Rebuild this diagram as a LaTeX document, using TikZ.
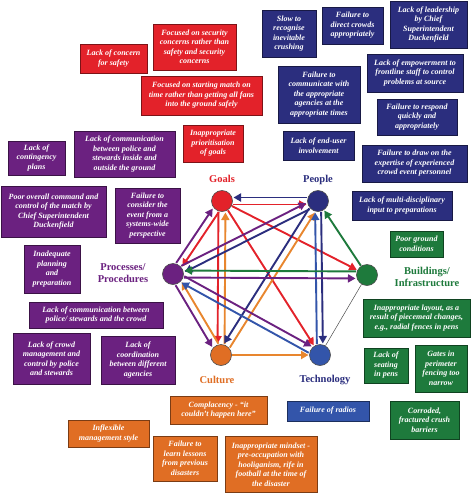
\documentclass[tikz,border=0pt]{standalone}
\usepackage{fontspec}
\setmainfont{Liberation Serif}
\usetikzlibrary{arrows.meta,calc}
\definecolor{cR}{HTML}{E3222A}
\definecolor{cN}{HTML}{2B2E7E}
\definecolor{cB}{HTML}{3355AA}
\definecolor{cG}{HTML}{1E7A3C}
\definecolor{cPu}{HTML}{6B2180}
\definecolor{cO}{HTML}{E06E24}
\definecolor{cOa}{HTML}{E8862E}
\newcommand\bxfont{\fontsize{8}{9.5}\selectfont\bfseries\itshape}
\newcommand\hxlink[4]{\draw[arr,#1] ($(#2)!#4!90:(#3)$) -- ($(#3)!#4!-90:(#2)$);}
\tikzset{
  box/.style={draw=#1!55!black, fill=#1, line width=0.7pt, text=white, font=\bxfont, align=center, inner sep=1pt},
  hub/.style={circle, minimum size=21pt, inner sep=0pt, draw=black!70, line width=0.6pt, fill=#1},
  lab/.style={font=\fontsize{10.5}{11.5}\selectfont\bfseries, align=center, text=#1},
  arr/.style={line width=1.9pt, -{Triangle[length=7.5pt,width=8pt]}, shorten <=11pt, shorten >=11.5pt}
}
\begin{document}
\begin{tikzpicture}[x=1pt,y=-1pt]
\fill[white] (0,0) rectangle (474,493);
\useasboundingbox (0,0) rectangle (474,493);
% red boxes
\node[box=cR, minimum width=67pt, minimum height=29pt] (r1) at (113.5,58.5) {Lack of concern\\for safety};
\node[box=cR, minimum width=83pt, minimum height=46pt] (r2) at (194.5,47) {Focused on security\\concerns rather than\\safety and security\\concerns};
\node[box=cR, minimum width=121pt, minimum height=39pt] (r3) at (201.5,95.5) {Focused on starting match on\\time rather than getting all fans\\into the ground safely};
\node[box=cR, minimum width=60pt, minimum height=37pt] (r4) at (213,143.5) {Inappropriate\\prioritisation\\of goals};
% navy boxes
\node[box=cN, minimum width=54pt, minimum height=47pt] (n1) at (289,33.5) {Slow to\\recognise\\inevitable\\crushing};
\node[box=cN, minimum width=61pt, minimum height=37pt] (n2) at (352.5,25.5) {Failure to\\direct crowds\\appropriately};
\node[box=cN, minimum width=77pt, minimum height=47pt] (n3) at (428.5,24.5) {Lack of leadership\\by Chief\\Superintendent\\Duckenfield};
\node[box=cN, minimum width=82pt, minimum height=57pt] (n4) at (319,94.5) {Failure to\\communicate with\\the appropriate\\agencies at the\\appropriate times};
\node[box=cN, minimum width=96pt, minimum height=38pt] (n5) at (415,73) {Lack of empowerment to\\frontline staff to control\\problems at source};
\node[box=cN, minimum width=80pt, minimum height=36pt] (n6) at (417,117) {Failure to respond\\quickly and\\appropriately};
\node[box=cN, minimum width=71pt, minimum height=29pt] (n7) at (318.5,145.5) {Lack of end-user\\involvement};
\node[box=cN, minimum width=105pt, minimum height=37pt] (n8) at (414.5,163.5) {Failure to draw on the\\expertise of experienced\\crowd event personnel};
\node[box=cN, minimum width=100pt, minimum height=29pt] (n9) at (402,205.5) {Lack of multi-disciplinary\\input to preparations};
\node[box=cB, minimum width=82pt, minimum height=20pt] (b1) at (328,411) {Failure of radios};
% green boxes
\node[box=cG, minimum width=53pt, minimum height=26pt] (g1) at (416.5,244) {Poor ground\\conditions};
\node[box=cG, minimum width=107pt, minimum height=38pt] (g2) at (416.5,318) {Inappropriate layout, as a\\result of piecemeal changes,\\e.g., radial fences in pens};
\node[box=cG, minimum width=44pt, minimum height=35pt] (g3) at (386,365.5) {Lack of\\seating\\in pens};
\node[box=cG, minimum width=52pt, minimum height=47pt] (g4) at (441,368.5) {Gates in\\perimeter\\fencing too\\narrow};
\node[box=cG, minimum width=69pt, minimum height=38pt] (g5) at (424.5,420) {Corroded,\\fractured crush\\barriers};
% purple boxes
\node[box=cPu, minimum width=57pt, minimum height=34pt] (p1) at (36.5,158) {Lack of\\contingency\\plans};
\node[box=cPu, minimum width=101pt, minimum height=46pt] (p2) at (124.5,154) {Lack of communication\\between police and\\stewards inside and\\outside the ground};
\node[box=cPu, minimum width=105pt, minimum height=51pt] (p3) at (53.5,211.5) {Poor overall command and\\control of the match by\\Chief Superintendent\\Duckenfield};
\node[box=cPu, minimum width=65pt, minimum height=55pt] (p4) at (147.5,215.5) {Failure to\\consider the\\event from a\\systems-wide\\perspective};
\node[box=cPu, minimum width=56pt, minimum height=48pt] (p5) at (52,269) {Inadequate\\planning\\and\\preparation};
\node[box=cPu, minimum width=134pt, minimum height=26pt] (p6) at (96,315) {Lack of communication between\\police/ stewards and the crowd};
\node[box=cPu, minimum width=77pt, minimum height=51pt] (p7) at (51.5,358.5) {Lack of crowd\\management and\\control by police\\and stewards};
\node[box=cPu, minimum width=74pt, minimum height=48pt] (p8) at (138,360) {Lack of\\coordination\\between different\\agencies};
% orange boxes
\node[box=cO, minimum width=97pt, minimum height=28pt] (o1) at (218.5,410) {Complacency - ``it\\couldn't happen here''};
\node[box=cO, minimum width=81pt, minimum height=27pt] (o2) at (108.5,433.5) {Inflexible\\management style};
\node[box=cO, minimum width=64pt, minimum height=45pt] (o3) at (185,458.5) {Failure to\\learn lessons\\from previous\\disasters};
\node[box=cO, minimum width=92pt, minimum height=56pt] (o4) at (271,464.5) {Inappropriate mindset -\\pre-occupation with\\hooliganism, rife in\\football at the time of\\the disaster};
% hubs
\node[hub=cR] (G) at (222,201) {};
\node[hub=cN] (P) at (318,201) {};
\node[hub=cG] (B) at (367,275) {};
\node[hub=cB] (T) at (320,355) {};
\node[hub=cO] (C) at (221,355) {};
\node[hub=cPu] (Pr) at (173,274) {};
% hub labels
\node[lab=cR] (lG) at (222,179) {Goals};
\node[lab=cN] (lP) at (318,180) {People};
\node[lab=cPu] (lPr) at (123,273) {Processes/\\Procedures};
\node[lab=cG] (lB) at (427,277) {Buildings/\\Infrastructure};
\node[lab=cO] (lC) at (217,380) {Culture};
\node[lab=cN] (lT) at (325,380) {Technology};
% connectors
\hxlink{cR}{G}{P}{-3.5pt}
\hxlink{cN}{P}{G}{-3.5pt}
\hxlink{cR}{G}{Pr}{3.5pt}
\hxlink{cPu}{Pr}{G}{3.5pt}
\hxlink{cR}{G}{C}{-3.5pt}
\hxlink{cOa}{C}{G}{-3.5pt}
\hxlink{cR}{G}{T}{0pt}
\hxlink{cR}{G}{B}{0pt}
\hxlink{cN}{P}{Pr}{3.5pt}
\hxlink{cPu}{Pr}{P}{3.5pt}
\hxlink{cN}{P}{C}{-3.5pt}
\hxlink{cOa}{C}{P}{-3.5pt}
\hxlink{cN}{P}{T}{3pt}
\hxlink{cB}{T}{P}{3pt}
\hxlink{cG}{B}{P}{0pt}
\hxlink{cPu}{Pr}{B}{-3.5pt}
\hxlink{cG}{B}{Pr}{-3.5pt}
\hxlink{cPu}{Pr}{C}{-3.5pt}
\hxlink{cOa}{C}{Pr}{-3.5pt}
\hxlink{cPu}{Pr}{T}{3.5pt}
\hxlink{cB}{T}{Pr}{3.5pt}
\hxlink{cOa}{C}{T}{0pt}
\draw[black!70, line width=0.5pt] (B) -- (T);
\end{tikzpicture}
\end{document}
